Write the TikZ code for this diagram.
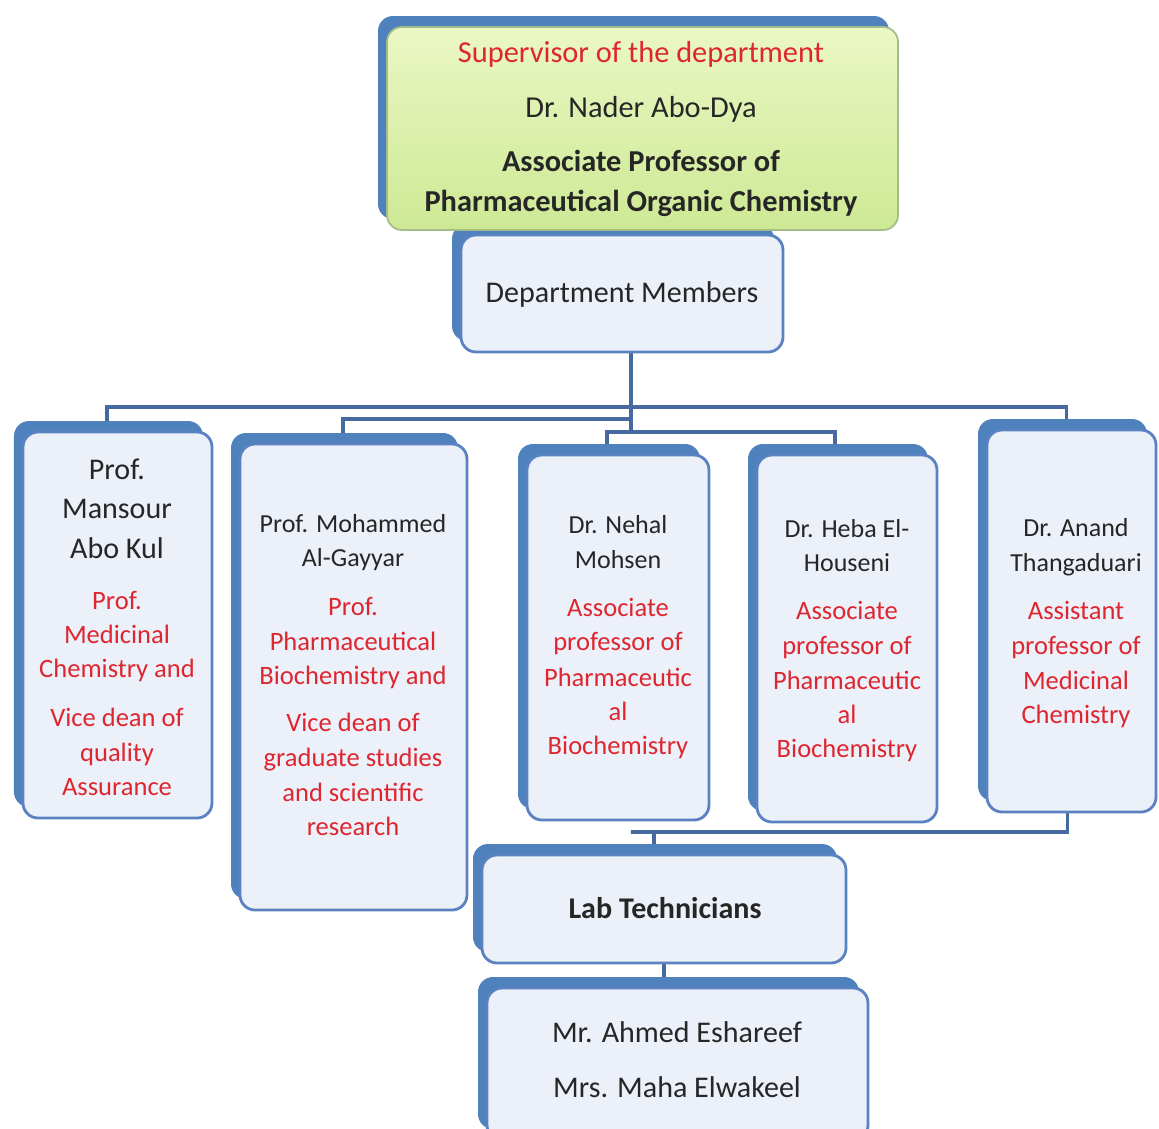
\documentclass[tikz,border=0pt]{standalone}
\usepackage{fontspec}
\setmainfont{Carlito}
\usepackage{tikz}
\usepackage{xcolor}
\usetikzlibrary{shadows,backgrounds}
\definecolor{cardline}{HTML}{5A82C2}
\definecolor{cardfill}{HTML}{ECF0F8}
\definecolor{cardshade}{HTML}{4F81BD}
\definecolor{linkblue}{HTML}{46699F}
\definecolor{inkdark}{HTML}{262626}
\definecolor{inkred}{HTML}{DE2630}
\definecolor{suptop}{HTML}{EBF7C4}
\definecolor{supbot}{HTML}{CDE995}
\definecolor{supline}{HTML}{A3BC88}

\begin{document}
\begin{tikzpicture}[scale=0.2]
\tikzstyle{every node}+=[inner sep=0pt]
\tikzstyle{card}=[rectangle, draw=cardline, line width=1.6pt, rounded corners=3mm, fill=cardfill, general shadow={fill=cardshade, shadow xshift=-1.8mm, shadow yshift=2.2mm}]
\tikzstyle{supcard}=[rectangle, draw=supline, line width=1pt, rounded corners=3mm, top color=suptop, bottom color=supbot, general shadow={fill=cardshade, shadow xshift=-1.8mm, shadow yshift=2.2mm}]
\tikzstyle{link}=[draw=linkblue, line width=2pt]
\tikzstyle{head}=[anchor=mid, text=inkdark, font=\fontsize{17.3}{20}\selectfont]
\tikzstyle{who}=[anchor=mid, text=inkdark, font=\fontsize{14.8}{17}\selectfont]
\tikzstyle{bigwho}=[anchor=mid, text=inkdark, font=\fontsize{17.1}{20}\selectfont]
\tikzstyle{post}=[anchor=mid, text=inkred, font=\fontsize{15.1}{17}\selectfont]
\clip (0,0) rectangle (115.9,-112.8);

% boxes
\node [card, minimum width=64.4mm, minimum height=23.4mm] (dept) at (62.2,-29.35) {};
\node [supcard, minimum width=102.2mm, minimum height=40.6mm] (sup) at (64.25,-12.85) {};
\node [card, minimum width=37.8mm, minimum height=77.2mm] (m1) at (11.75,-62.5) {};
\node [card, minimum width=45.4mm, minimum height=93.2mm] (m2) at (35.35,-67.7) {};
\node [card, minimum width=36.4mm, minimum height=73mm] (m3) at (61.8,-63.75) {};
\node [card, minimum width=36mm, minimum height=73.4mm] (m4) at (84.7,-63.85) {};
\node [card, minimum width=33.8mm, minimum height=76.4mm] (m5) at (107.15,-62.1) {};
\node [card, minimum width=72.8mm, minimum height=21.6mm] (lab) at (66.4,-90.9) {};
\node [card, minimum width=76.2mm, minimum height=30.4mm] (techs) at (67.75,-106.4) {};

% texts
\node [head, text=inkred] (s1) at (64.1,-5.8) {Supervisor of the department};
\node [head] (s2) at (64.1,-11.3) {Dr. Nader Abo-Dya};
\node [head, font=\fontsize{17.3}{20}\selectfont\bfseries] (s3) at (64.1,-16.7) {Associate Professor of};
\node [head, font=\fontsize{17.3}{20}\selectfont\bfseries] (s4) at (64.1,-20.7) {Pharmaceutical Organic Chemistry};
\node [bigwho] (d1) at (62.2,-29.8) {Department Members};

\node [bigwho] (a1) at (11.7,-47.5) {Prof.};
\node [bigwho] (a2) at (11.7,-51.4) {Mansour};
\node [bigwho] (a3) at (11.7,-55.4) {Abo Kul};
\node [post] (a4) at (11.7,-60.5) {Prof.};
\node [post] (a5) at (11.7,-63.9) {Medicinal};
\node [post] (a6) at (11.7,-67.3) {Chemistry and};
\node [post] (a7) at (11.7,-72.2) {Vice dean of};
\node [post] (a8) at (11.7,-75.7) {quality};
\node [post] (a9) at (11.7,-79.1) {Assurance};

\node [who] (b1) at (35.3,-52.8) {Prof. Mohammed};
\node [who] (b2) at (35.3,-56.2) {Al-Gayyar};
\node [post] (b3) at (35.3,-61.1) {Prof.};
\node [post] (b4) at (35.3,-64.6) {Pharmaceutical};
\node [post] (b5) at (35.3,-68.0) {Biochemistry and};
\node [post] (b6) at (35.3,-72.7) {Vice dean of};
\node [post] (b7) at (35.3,-76.2) {graduate studies};
\node [post] (b8) at (35.3,-79.7) {and scientific};
\node [post] (b9) at (35.3,-83.1) {research};

\node [who] (c1) at (61.8,-52.9) {Dr. Nehal};
\node [who] (c2) at (61.8,-56.4) {Mohsen};
\node [post] (c3) at (61.8,-61.2) {Associate};
\node [post] (c4) at (61.8,-64.6) {professor of};
\node [post] (c5) at (61.8,-68.2) {Pharmaceutic};
\node [post] (c6) at (61.8,-71.6) {al};
\node [post] (c7) at (61.8,-75.0) {Biochemistry};

\node [who] (e1) at (84.7,-53.3) {Dr. Heba El-};
\node [who] (e2) at (84.7,-56.7) {Houseni};
\node [post] (e3) at (84.7,-61.5) {Associate};
\node [post] (e4) at (84.7,-65.0) {professor of};
\node [post] (e5) at (84.7,-68.5) {Pharmaceutic};
\node [post] (e6) at (84.7,-71.9) {al};
\node [post] (e7) at (84.7,-75.3) {Biochemistry};

\node [who] (f1) at (107.6,-53.2) {Dr. Anand};
\node [who] (f2) at (107.6,-56.7) {Thangaduari};
\node [post] (f3) at (107.6,-61.5) {Assistant};
\node [post] (f4) at (107.6,-65.0) {professor of};
\node [post] (f5) at (107.6,-68.5) {Medicinal};
\node [post] (f6) at (107.6,-71.9) {Chemistry};

\node [bigwho, font=\fontsize{17.1}{20}\selectfont\bfseries] (l1) at (66.5,-91.4) {Lab Technicians};
\node [bigwho] (t1) at (67.7,-103.8) {Mr. Ahmed Eshareef};
\node [bigwho] (t2) at (67.7,-109.3) {Mrs. Maha Elwakeel};

% connectors
\coordinate (trunk) at (63.1,-40.7);
\coordinate (bus2) at (63.1,-41.9);
\coordinate (bus3) at (63.1,-43.2);
\coordinate (bus4) at (63.1,-83.2);
\begin{scope}[on background layer]
\draw [link] (dept.south -| trunk) -- (bus3);
\draw [link] ([xshift=-1.05cm]m1.north) |- (trunk) -| ([xshift=-0.5cm]m5.north);
\draw [link] ([xshift=-1.05cm]m2.north) |- (bus2);
\draw [link] ([xshift=-1.1cm]m3.north) |- (bus3) -| ([xshift=-1.2cm]m4.north);
\draw [link] ([xshift=-0.4cm]m5.south) |- (bus4) -| ([xshift=-1cm]lab.north);
\draw [link] (lab.south) -- (lab.south |- techs.north);
\end{scope}
\end{tikzpicture}
\end{document}
